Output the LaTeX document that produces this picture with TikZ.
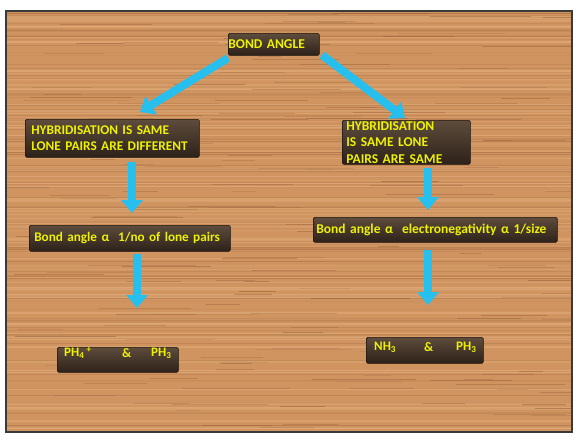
\documentclass[tikz,border=0pt]{standalone}
\usepackage{fontspec}
\setmainfont{Carlito}[BoldFont={Carlito Bold}]
\usetikzlibrary{arrows.meta}
\definecolor{woodbase}{HTML}{CF9460}
\definecolor{wooddark}{HTML}{8E5630}
\definecolor{woodlight}{HTML}{E8B685}
\definecolor{boxtop}{HTML}{5E4C3C}
\definecolor{boxbot}{HTML}{2C2119}
\definecolor{boxedge}{HTML}{1C140E}
\definecolor{txtyellow}{HTML}{EEF200}
\definecolor{arrowcyan}{HTML}{26BFEE}
\definecolor{framegray}{HTML}{3A3A3A}
\tikzset{
  darkbox/.style={draw=boxedge, line width=0.6pt, rounded corners=1.5pt,
    top color=boxtop, bottom color=boxbot, anchor=north west,
    text=txtyellow, font=\bfseries, align=left, inner ysep=0pt},
  plaintxt/.style={text=txtyellow, font=\bfseries\fontsize{13}{15}\selectfont, inner sep=0pt},
  bigarrow/.style={draw=arrowcyan, line width=8pt,
    -{Triangle[width=21pt,length=13pt]}},
}
\begin{document}
\begin{tikzpicture}[x=1pt,y=-1pt]
\useasboundingbox (0,0) rectangle (578,440);
\fill[white] (0,0) rectangle (578,440);
% wood panel
\fill[woodbase] (6,11) rectangle (572,432);
\begin{scope}
\clip (6,11) rectangle (572,432);
\pgfmathsetseed{11}
\foreach \i in {1,...,140}{
  \pgfmathsetmacro\yy{11+421*rnd}
  \pgfmathsetmacro\op{0.05+0.2*rnd}
  \pgfmathsetmacro\lw{0.3+0.9*rnd}
  \draw[wooddark, opacity=\op, line width=\lw] (6,\yy) -- (572,\yy);
}
\foreach \i in {1,...,110}{
  \pgfmathsetmacro\yy{11+421*rnd}
  \pgfmathsetmacro\op{0.15+0.35*rnd}
  \pgfmathsetmacro\lw{0.5+1.5*rnd}
  \draw[woodlight, opacity=\op, line width=\lw] (6,\yy) -- (572,\yy);
}
\foreach \i in {1,...,160}{
  \pgfmathsetmacro\yy{11+421*rnd}
  \pgfmathsetmacro\xx{6+540*rnd}
  \pgfmathsetmacro\ll{20+90*rnd}
  \pgfmathsetmacro\op{0.15+0.3*rnd}
  \draw[wooddark, opacity=\op, line width=0.7pt] (\xx,\yy) -- ++(\ll,0);
}
\end{scope}
\draw[framegray, line width=1.3pt] (6,11) rectangle (572,432);

% boxes
\node[darkbox, minimum width=91, minimum height=22, text width=91, inner xsep=0pt,
  font=\bfseries\fontsize{13.5}{15}\selectfont] (bond) at (228,33) {\mbox{BOND ANGLE}};
\node[darkbox, minimum width=174, minimum height=38, text width=162, inner xsep=6pt,
  font=\bfseries\fontsize{13.3}{15.5}\selectfont] (hyb1) at (25,119)
  {\mbox{HYBRIDISATION IS SAME}\\\mbox{LONE PAIRS ARE DIFFERENT}};
\node[darkbox, minimum width=128, minimum height=44, text width=120, inner xsep=4pt,
  font=\bfseries\fontsize{13.5}{16.5}\selectfont] (hyb2) at (342,120)
  {\mbox{HYBRIDISATION}\\\mbox{IS SAME LONE}\\\mbox{PAIRS ARE SAME}};
\node[darkbox, minimum width=201, minimum height=26, text width=191, inner xsep=5pt,
  font=\bfseries\fontsize{13.2}{15}\selectfont] (rel1) at (29,225)
  {\mbox{Bond angle α\ \ 1/no of lone pairs}};
\node[darkbox, minimum width=244, minimum height=25, text width=238, inner xsep=3pt,
  font=\bfseries\fontsize{13.5}{15}\selectfont] (rel2) at (313,217)
  {\mbox{Bond angle α\ \ electronegativity α 1/size}};
\node[darkbox, minimum width=121, minimum height=25] (ex1) at (57,347) {};
\node[darkbox, minimum width=117, minimum height=26] (ex2) at (366,337) {};

\node[plaintxt, anchor=west] (ph4) at (64,353) {PH\textsubscript{4}\,\textsuperscript{+}};
\node[plaintxt, anchor=west] (amp1) at (122,353) {\&};
\node[plaintxt, anchor=west] (ph3a) at (151,353) {PH\textsubscript{3}};
\node[plaintxt, anchor=west] (nh3) at (374,347) {NH\textsubscript{3}};
\node[plaintxt, anchor=west] (amp2) at (424,347) {\&};
\node[plaintxt, anchor=west] (ph3b) at (456,347) {PH\textsubscript{3}};

% arrow ends
\coordinate (a1s) at (228,58);
\coordinate (a1e) at (140,112);
\coordinate (a2s) at (322,55);
\coordinate (a2e) at (405,118);
\coordinate (a3s) at (132,162);
\coordinate (a3e) at (132,213);
\coordinate (a4s) at (137,254);
\coordinate (a4e) at (137,308);
\coordinate (a5s) at (428,168);
\coordinate (a5e) at (428,210);
\coordinate (a6s) at (428,250);
\coordinate (a6e) at (428,305);

\draw[bigarrow] (a1s) -- (a1e);
\draw[bigarrow] (a2s) -- (a2e);
\draw[bigarrow] (a3s) -- (a3e);
\draw[bigarrow] (a4s) -- (a4e);
\draw[bigarrow] (a5s) -- (a5e);
\draw[bigarrow] (a6s) -- (a6e);
\end{tikzpicture}
\end{document}
